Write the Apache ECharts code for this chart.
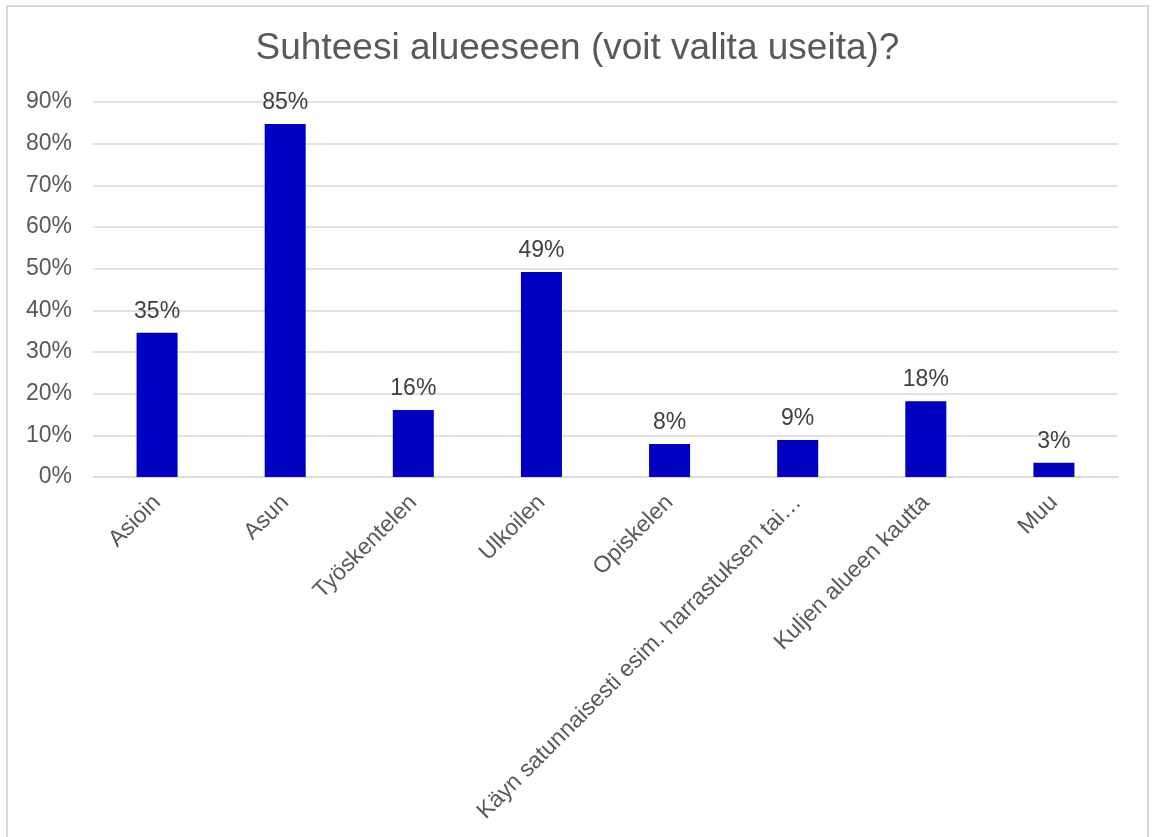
<!DOCTYPE html>
<html>
<head>
<meta charset="utf-8">
<script src="https://cdn.jsdelivr.net/npm/echarts@6/dist/echarts.min.js"></script>
<style>
html,body{margin:0;padding:0;background:#fff;}
#c{width:1155px;height:837px;}
</style>
</head>
<body>
<div id="c"></div>
<script>
const titleText = 'Suhteesi alueeseen (voit valita useita)?';
const categories = ['Asioin', 'Asun', 'Työskentelen', 'Ulkoilen', 'Opiskelen', 'Käyn satunnaisesti esim. harrastuksen tai…', 'Kuljen alueen kautta', 'Muu'];
const values = [34.6, 84.7, 16.1, 49.2, 7.9, 8.9, 18.2, 3.4];
const yTicks = [0, 10, 20, 30, 40, 50, 60, 70, 80, 90];

const FONT = '"Liberation Sans", Arial, sans-serif';
const chart = echarts.init(document.getElementById('c'), null, {renderer: 'canvas'});
chart.setOption({
  backgroundColor: '#ffffff',
  animation: false,
  graphic: [{
    type: 'rect',
    shape: {x: 7, y: 6, width: 1141, height: 850},
    style: {fill: 'none', stroke: '#d9d9d9', lineWidth: 2},
    silent: true
  }],
  title: {
    text: titleText,
    left: 'center',
    top: 25,
    textStyle: {fontFamily: FONT, fontSize: 37, fontWeight: 'normal', color: '#595959'}
  },
  grid: {left: 93, right: 37, top: 102, bottom: 360, containLabel: false},
  xAxis: {
    type: 'category',
    data: categories,
    axisLine: {show: true, lineStyle: {color: '#d9d9d9', width: 1.5}},
    axisTick: {show: false},
    axisLabel: {
      interval: 0,
      rotate: 45,
      margin: 22,
      fontFamily: FONT,
      fontSize: 23,
      color: '#595959'
    }
  },
  yAxis: {
    type: 'value',
    min: yTicks[0],
    max: yTicks[yTicks.length - 1],
    interval: 10,
    axisLine: {show: false},
    axisTick: {show: false},
    splitLine: {lineStyle: {color: '#d9d9d9', width: 1.5}},
    axisLabel: {
      margin: 21,
      fontFamily: FONT,
      fontSize: 23,
      color: '#595959',
      formatter: v => v + '%'
    }
  },
  series: [{
    type: 'bar',
    data: values,
    barWidth: 41,
    itemStyle: {color: '#0000c0'},
    label: {
      show: true,
      position: 'top',
      distance: 10,
      fontFamily: FONT,
      fontSize: 23,
      color: '#404040',
      formatter: p => Math.round(p.value) + '%'
    }
  }]
});
</script>
</body>
</html>
